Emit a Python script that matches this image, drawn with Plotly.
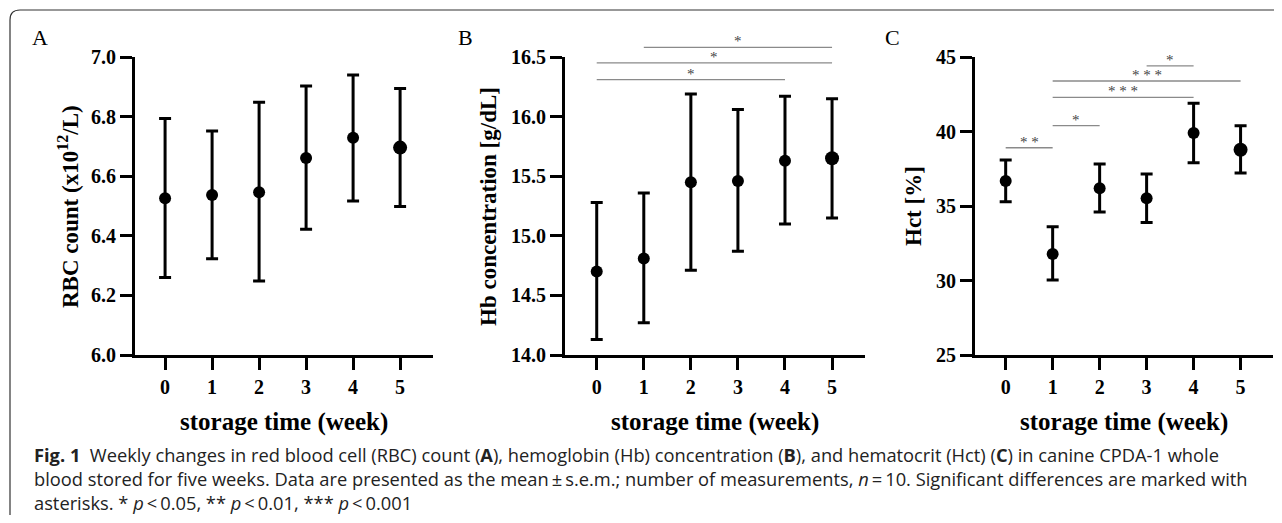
import plotly.graph_objects as go

# the page keeps an 8 px body margin, so reference pixels are shifted by it
REF_W, REF_H = 1282, 523
OX, OY = 8, 8
W, H = REF_W - 2 * OX, REF_H - 2 * OY

weeks = [0, 1, 2, 3, 4, 5]

rbc_mean = [6.526, 6.537, 6.546, 6.661, 6.729, 6.696]
rbc_upper = [6.794, 6.752, 6.848, 6.903, 6.940, 6.894]
rbc_lower = [6.260, 6.323, 6.248, 6.422, 6.517, 6.498]

hb_mean = [14.70, 14.81, 15.45, 15.46, 15.63, 15.65]
hb_upper = [15.28, 15.36, 16.19, 16.06, 16.17, 16.15]
hb_lower = [14.13, 14.27, 14.71, 14.87, 15.10, 15.15]

hct_mean = [36.68, 31.78, 36.19, 35.52, 39.90, 38.78]
hct_upper = [38.09, 33.61, 37.82, 37.15, 41.89, 40.39]
hct_lower = [35.29, 30.03, 34.60, 33.90, 37.90, 37.21]

# significance brackets: (from week, to week, level, stars)
hb_sig = [(0, 4, 16.31, "*"), (0, 5, 16.45, "*"), (1, 5, 16.58, "*")]
hct_sig = [
    (0, 1, 38.91, "* *"),
    (1, 2, 40.39, "*"),
    (1, 4, 42.29, "* * *"),
    (1, 5, 43.39, "* * *"),
    (3, 4, 44.40, "*"),
]

caption_lines = [
    "<b>Fig. 1</b>  Weekly changes in red blood cell (RBC) count (<b>A</b>), hemoglobin (Hb) concentration (<b>B</b>), "
    "and hematocrit (Hct) (<b>C</b>) in canine CPDA-1 whole",
    "blood stored for five weeks. Data are presented as the mean\u2009\u00b1\u2009s.e.m.; number of measurements, "
    "<i>n</i>\u2009=\u200910. Significant differences are marked with",
    "asterisks. * <i>p</i>\u2009<\u20090.05, ** <i>p</i>\u2009<\u20090.01, *** <i>p</i>\u2009<\u20090.001",
]
caption_y = [454, 478, 502]

SERIF = "Liberation Serif, Times New Roman, serif"
SANS = "Open Sans, Noto Sans, sans-serif"


def px_x(v):
    return (v - OX) / W


def px_y(v):
    return 1 - (v - OY) / H


panels = [
    dict(name="A", x0=135, x1=433, xr=[-0.64, 5.7], yr=[6.0, 7.0], dtick=0.2, fmt=".1f",
         mean=rbc_mean, up=rbc_upper, lo=rbc_lower, sig=[],
         ytitle="RBC count (x10<sup>12</sup>/L)", ytitle_x=68, letter_x=40),
    dict(name="B", x0=565, x1=865, xr=[-0.674, 5.7], yr=[14.0, 16.5], dtick=0.5, fmt=".1f",
         mean=hb_mean, up=hb_upper, lo=hb_lower, sig=hb_sig,
         ytitle="Hb concentration [g/dL]", ytitle_x=488, letter_x=465),
    dict(name="C", x0=975, x1=1273, xr=[-0.653, 5.69], yr=[25, 45], dtick=5, fmt="d",
         mean=hct_mean, up=hct_upper, lo=hct_lower, sig=hct_sig,
         ytitle="Hct [%]", ytitle_x=913, letter_x=892),
]

PLOT_TOP, PLOT_BOTTOM = 57, 355

fig = go.Figure()
layout = dict(
    width=W,
    height=H,
    margin=dict(l=0, r=0, t=0, b=0, autoexpand=False),
    paper_bgcolor="white",
    plot_bgcolor="white",
    showlegend=False,
    annotations=[],
    shapes=[],
)

for i, p in enumerate(panels, start=1):
    sfx = "" if i == 1 else str(i)
    xa, ya = f"x{sfx}", f"y{sfx}"
    sizes = [12, 12, 12, 12, 12, 14]
    fig.add_trace(
        go.Scatter(
            x=weeks,
            y=p["mean"],
            mode="markers",
            marker=dict(color="black", size=sizes, opacity=1, line=dict(width=0)),
            error_y=dict(
                type="data",
                symmetric=False,
                array=[u - m for u, m in zip(p["up"], p["mean"])],
                arrayminus=[m - l for m, l in zip(p["mean"], p["lo"])],
                color="black",
                thickness=3,
                width=6,
            ),
            xaxis=xa,
            yaxis=ya,
            cliponaxis=False,
        )
    )
    axis_common = dict(
        showline=True,
        linecolor="black",
        linewidth=3,
        ticks="outside",
        ticklen=12,
        tickwidth=3,
        tickcolor="black",
        showgrid=False,
        zeroline=False,
        automargin=False,
        tickfont=dict(family=SERIF, size=20, color="black", weight="bold"),
    )
    layout[f"xaxis{sfx}"] = dict(
        axis_common,
        domain=[px_x(p["x0"]), px_x(p["x1"])],
        range=p["xr"],
        tickvals=weeks,
        anchor=ya,
    )
    layout[f"yaxis{sfx}"] = dict(
        axis_common,
        domain=[px_y(PLOT_BOTTOM), px_y(PLOT_TOP)],
        range=p["yr"],
        dtick=p["dtick"],
        tick0=p["yr"][0],
        tickformat=p["fmt"],
        anchor=xa,
    )

    lo_v, hi_v = p["yr"]
    for a, b, level, stars in p["sig"]:
        yd = (level - lo_v) / (hi_v - lo_v)
        layout["shapes"].append(
            dict(type="line", xref=xa, yref=f"{ya} domain", x0=a, x1=b, y0=yd, y1=yd,
                 line=dict(color="#8a8a8a", width=1.3))
        )
        layout["annotations"].append(
            dict(x=(a + b) / 2, y=yd, xref=xa, yref=f"{ya} domain", text=stars,
                 showarrow=False, yanchor="bottom", yshift=-4,
                 font=dict(family=SERIF, size=15, color="#444444"))
        )

    layout["annotations"].append(
        dict(x=px_x(p["letter_x"]), y=px_y(38), xref="paper", yref="paper", text=p["name"],
             showarrow=False, xanchor="center", yanchor="middle",
             font=dict(family=SERIF, size=22, color="black"))
    )
    layout["annotations"].append(
        dict(x=px_x(p["ytitle_x"]), y=px_y((PLOT_TOP + PLOT_BOTTOM) / 2), xref="paper", yref="paper",
             text=f"<b>{p['ytitle']}</b>", textangle=-90, showarrow=False,
             xanchor="center", yanchor="middle",
             font=dict(family=SERIF, size=23, color="black"))
    )
    layout["annotations"].append(
        dict(x=px_x((p["x0"] + p["x1"]) / 2), y=px_y(422), xref="paper", yref="paper",
             text="<b>storage time (week)</b>", showarrow=False,
             xanchor="center", yanchor="middle",
             font=dict(family=SERIF, size=25, color="black"))
    )

for line, yy in zip(caption_lines, caption_y):
    layout["annotations"].append(
        dict(x=px_x(32), y=px_y(yy), xref="paper", yref="paper", text=line,
             showarrow=False, xanchor="left", yanchor="middle", align="left",
             font=dict(family=SANS, size=18.3, color="#222222"))
    )

r = 10
frame = (
    f"M {px_x(10)},{px_y(REF_H + 5)} L {px_x(10)},{px_y(10 + r)} "
    f"Q {px_x(10)},{px_y(10)} {px_x(10 + r)},{px_y(10)} L {px_x(REF_W + 5)},{px_y(10)}"
)
layout["shapes"].append(
    dict(type="path", xref="paper", yref="paper", path=frame, line=dict(color="#333333", width=1.2))
)

fig.update_layout(**layout)
fig.write_html("out.html")
